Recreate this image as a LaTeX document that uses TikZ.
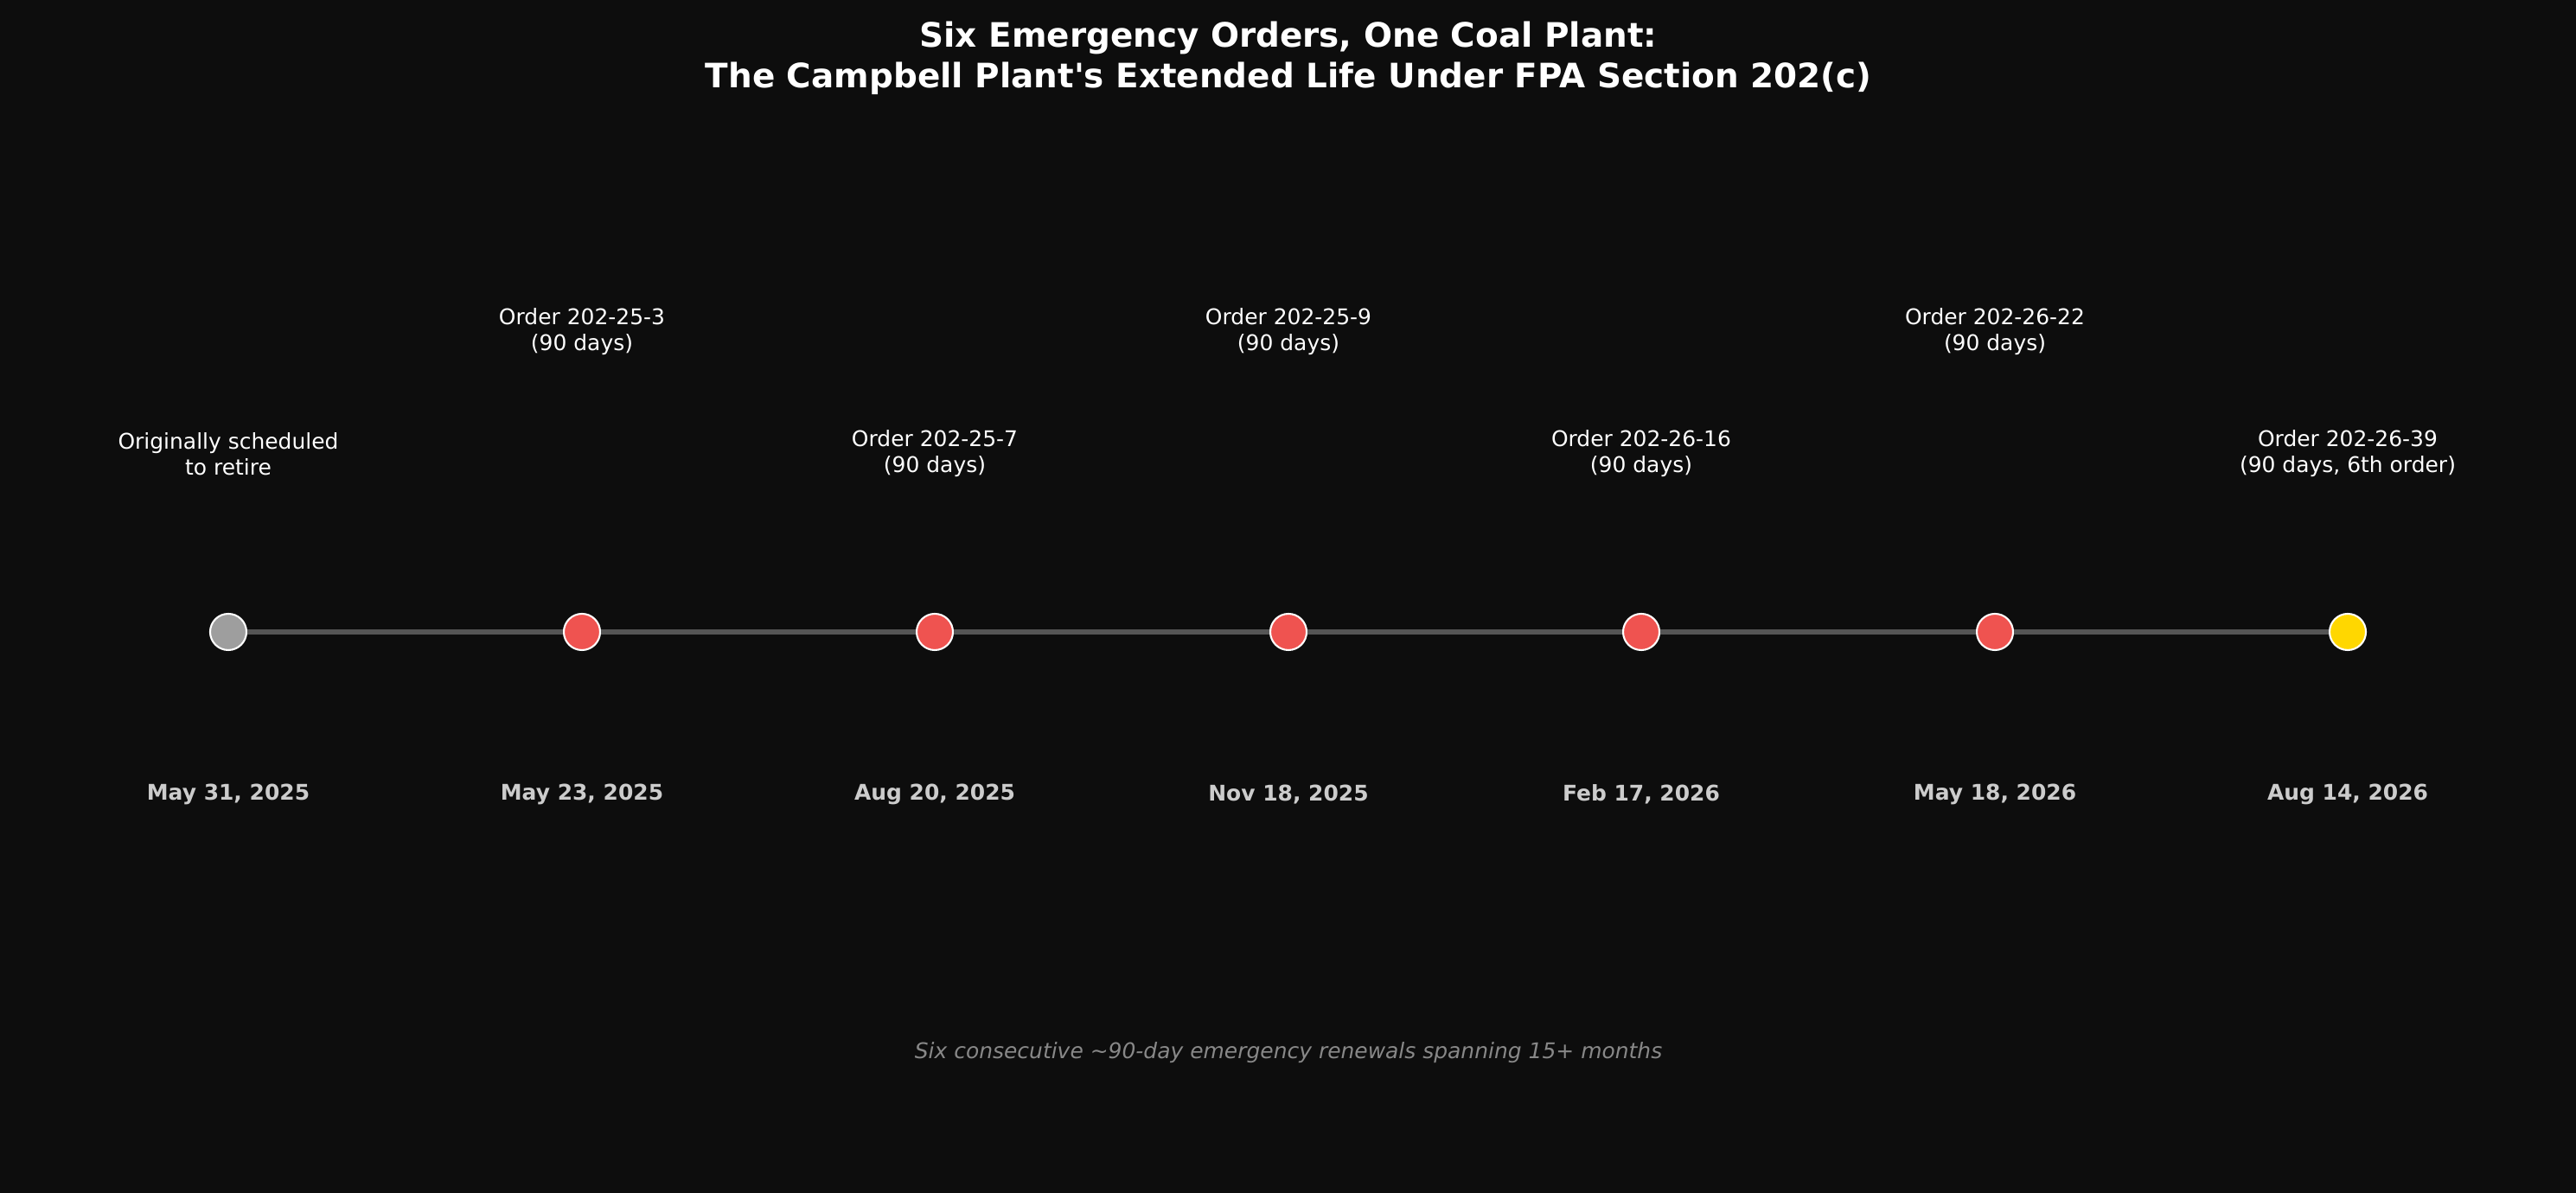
\documentclass[tikz,border=0pt]{standalone}
\usepackage{fontspec}
\setmainfont{DejaVu Sans}
\definecolor{bgdark}{HTML}{0D0D0D}
\definecolor{linegray}{HTML}{555555}
\definecolor{retiregray}{HTML}{9E9E9E}
\definecolor{orderred}{HTML}{EF5350}
\definecolor{lastgold}{HTML}{FFD700}
\definecolor{datefg}{HTML}{CCCCCC}
\definecolor{notefg}{HTML}{888888}

\begin{document}
\begin{tikzpicture}[
  marker/.style={circle, draw=white, line width=0.6pt, minimum size=0.42cm, inner sep=0pt},
  order/.style={text=white, align=center, inner sep=0pt, font=\fontsize{7.1}{8.5}\selectfont},
  datelbl/.style={text=datefg, inner sep=0pt, font=\bfseries\fontsize{7.1}{8.5}\selectfont},
  timeline/.style={draw=linegray, line width=1.7pt}
]
\fill[bgdark] (0, 0) rectangle (29.79, 13.80);

\node[text=white, align=center, inner sep=0pt, font=\bfseries\fontsize{11.07}{13.37}\selectfont] (title) at (14.90, 13.125)
  {Six Emergency Orders, One Coal Plant:\\The Campbell Plant\textquotesingle s Extended Life Under FPA Section 202(c)};

\node[marker, fill=retiregray] (m0) at (2.64, 6.49) {};
\node[marker, fill=orderred] (m1) at (6.73, 6.49) {};
\node[marker, fill=orderred] (m2) at (10.81, 6.49) {};
\node[marker, fill=orderred] (m3) at (14.90, 6.49) {};
\node[marker, fill=orderred] (m4) at (18.98, 6.49) {};
\node[marker, fill=orderred] (m5) at (23.07, 6.49) {};
\node[marker, fill=lastgold] (m6) at (27.15, 6.49) {};

\draw[timeline] (m0) -- (m1) (m1) -- (m2) (m2) -- (m3) (m3) -- (m4) (m4) -- (m5) (m5) -- (m6);

\node[order] (l0) at (2.64, 8.55) {Originally scheduled\\to retire};
\node[order] (l1) at (6.73, 9.96) {Order 202-25-3\\(90 days)};
\node[order] (l2) at (10.81, 8.55) {Order 202-25-7\\(90 days)};
\node[order] (l3) at (14.90, 9.96) {Order 202-25-9\\(90 days)};
\node[order] (l4) at (18.98, 8.55) {Order 202-26-16\\(90 days)};
\node[order] (l5) at (23.07, 9.96) {Order 202-26-22\\(90 days)};
\node[order] (l6) at (27.15, 8.55) {Order 202-26-39\\(90 days, 6th order)};

\node[datelbl] (d0) at (2.64, 4.61) {May 31, 2025};
\node[datelbl] (d1) at (6.73, 4.61) {May 23, 2025};
\node[datelbl] (d2) at (10.81, 4.61) {Aug 20, 2025};
\node[datelbl] (d3) at (14.90, 4.61) {Nov 18, 2025};
\node[datelbl] (d4) at (18.98, 4.61) {Feb 17, 2026};
\node[datelbl] (d5) at (23.07, 4.61) {May 18, 2026};
\node[datelbl] (d6) at (27.15, 4.61) {Aug 14, 2026};

\node[text=notefg, inner sep=0pt, font=\itshape\fontsize{7.1}{8.5}\selectfont] (note) at (14.90, 1.62)
  {Six consecutive \textasciitilde90-day emergency renewals spanning 15+ months};
\end{tikzpicture}
\end{document}
